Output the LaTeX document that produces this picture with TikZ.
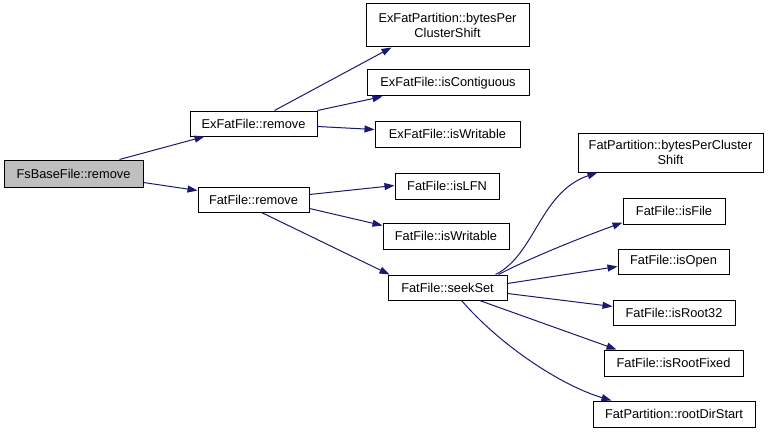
\documentclass[tikz,border=0pt]{standalone}
\usepackage{fontspec}
\setmainfont{Liberation Sans}
\usetikzlibrary{arrows.meta,calc}
\definecolor{edgeblue}{HTML}{191970}
\definecolor{rootgray}{HTML}{BFBFBF}
\tikzset{
  fn/.style={draw=black,line width=1pt,fill=white,inner sep=0pt,align=center,
    font=\fontsize{12.8}{15}\selectfont},
  call/.style={draw=edgeblue,line width=1pt,-{Triangle[length=10pt,width=7pt]}},
}
\begin{document}
\begin{tikzpicture}[x=1pt,y=-1pt]
\useasboundingbox (0,0) rectangle (775,433);
\node[fn,fill=rootgray,minimum width=139pt,minimum height=27pt] (fs) at (73.5,173.5) {FsBaseFile::remove};
\node[fn,minimum width=127pt,minimum height=25pt] (exr) at (253.5,123.5) {ExFatFile::remove};
\node[fn,minimum width=111pt,minimum height=25pt] (fr) at (253.5,199.5) {FatFile::remove};
\node[fn,minimum width=163pt,minimum height=43pt] (exp) at (447.5,25.5) {ExFatPartition::bytesPer\\ClusterShift};
\node[fn,minimum width=162pt,minimum height=26pt] (exc) at (448,83) {ExFatFile::isContiguous};
\node[fn,minimum width=145pt,minimum height=26pt] (exw) at (447.5,134) {ExFatFile::isWritable};
\node[fn,minimum width=104pt,minimum height=26pt] (lfn) at (447,186) {FatFile::isLFN};
\node[fn,minimum width=126pt,minimum height=26pt] (fw) at (446,236) {FatFile::isWritable};
\node[fn,minimum width=119pt,minimum height=25pt] (ss) at (447.5,287.5) {FatFile::seekSet};
\node[fn,minimum width=185pt,minimum height=39pt] (fpb) at (670.5,152.5) {FatPartition::bytesPerCluster\\Shift};
\node[fn,minimum width=102pt,minimum height=26pt] (isf) at (674,211) {FatFile::isFile};
\node[fn,minimum width=111pt,minimum height=25pt] (iso) at (673.5,261.5) {FatFile::isOpen};
\node[fn,minimum width=122pt,minimum height=25pt] (isr) at (674,312.5) {FatFile::isRoot32};
\node[fn,minimum width=139pt,minimum height=26pt] (isrf) at (673.5,363) {FatFile::isRootFixed};
\node[fn,minimum width=162pt,minimum height=26pt] (rds) at (674,414) {FatPartition::rootDirStart};

\draw[call] ($(fs.north west)+(116,0)$) -- ($(exr.south west)+(15,0)$);
\draw[call] ($(fs.north east)+(0,23)$) -- ($(fr.north west)+(0,4)$);

\draw[call] ($(exr.north west)+(85,0)$) -- ($(exp.south west)+(26,0)$);
\draw[call] (exr.north east) -- ($(exc.south west)+(16,0)$);
\draw[call] ($(exr.north east)+(0,16)$) -- ($(exw.north west)+(0,9)$);

\draw[call] ($(fr.north east)+(0,8)$) -- ($(lfn.north west)+(0,13)$);
\draw[call] ($(fr.north east)+(0,22)$) -- ($(fw.north west)+(0,3)$);
\draw[call] ($(fr.south west)+(64,0)$) -- ($(ss.north west)+(2,0)$);

\draw[call] ($(ss.north east)+(-12,0)$) .. controls (535,255) and (540,192) .. ($(fpb.south west)+(20,0)$);
\draw[call] ($(ss.north east)+(-9,0)$) .. controls (530,258) and (580,238) .. ($(isf.south west)+(0,-2)$);
\draw[call] ($(ss.north east)+(0,9)$) -- ($(iso.north west)+(0,18)$);
\draw[call] ($(ss.north east)+(0,19)$) -- ($(isr.north west)+(0,7)$);
\draw[call] ($(ss.south west)+(92,0)$) -- ($(isrf.north west)+(13,0)$);
\draw[call] ($(ss.south west)+(74,0)$) .. controls (500,345) and (560,385) .. ($(rds.north west)+(19,0)$);
\end{tikzpicture}
\end{document}
